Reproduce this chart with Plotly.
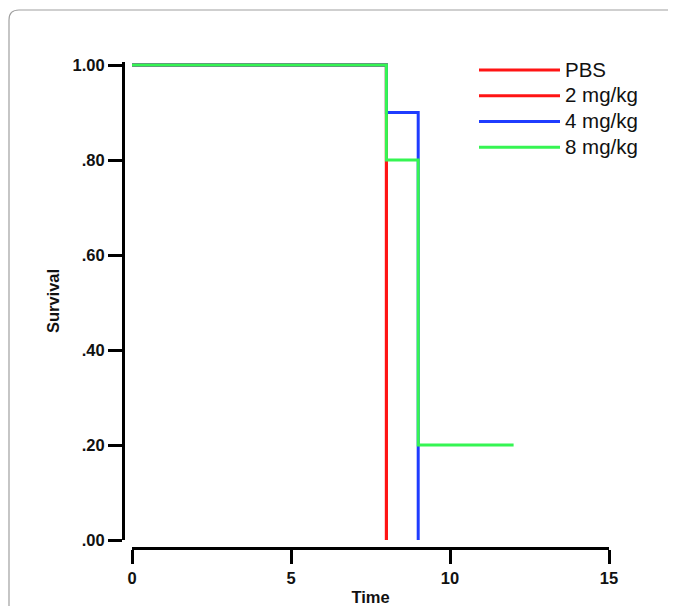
import plotly.graph_objects as go

# ---- data (Kaplan-Meier step curves) ----
series_names = ["PBS", "2 mg/kg", "4 mg/kg", "8 mg/kg"]
pbs_time = [0, 8]
pbs_surv = [1.0, 0.0]
mg2_time = [0, 8]
mg2_surv = [1.0, 0.0]
mg4_time = [0, 8, 9]
mg4_surv = [1.0, 0.9, 0.0]
mg8_time = [0, 8, 9, 12]
mg8_surv = [1.0, 0.8, 0.2, 0.2]

y_tickvals = [0.0, 0.2, 0.4, 0.6, 0.8, 1.0]
y_ticktext = [".00", ".20", ".40", ".60", ".80", "1.00"]
x_tickvals = [0, 5, 10, 15]
x_ticktext = ["0", "5", "10", "15"]

colors = ["#ff1414", "#ff1414", "#1f3cff", "#35f552"]

# ---- layout geometry (pixels, page has an 8px body margin) ----
OFF = 8
W, H = 676 - OFF, 606 - OFF
L = 123 - OFF
R = W - (609 - OFF)
T = 62 - OFF
B = H - (548 - OFF)
plot_w = W - L - R
plot_h = H - T - B


def px_x(px):
    """reference-page pixel x -> paper coordinate"""
    return (px - OFF - L) / plot_w


def px_y(py):
    """reference-page pixel y -> paper coordinate"""
    return (H - B - (py - OFF)) / plot_h


fig = go.Figure()
for name, tx, sy, c in zip(series_names,
                           [pbs_time, mg2_time, mg4_time, mg8_time],
                           [pbs_surv, mg2_surv, mg4_surv, mg8_surv],
                           colors):
    fig.add_trace(go.Scatter(
        x=tx, y=sy, mode="lines",
        name=f"<span style='font-size:20.5px'>{name}</span>",
        line=dict(color=c, width=3, shape="hv")))

FONT = "Liberation Sans, Arial, Helvetica, sans-serif"
tick_font = dict(family=FONT, size=16.5, color="#111111", weight="bold")
title_font = dict(family=FONT, size=16.5, color="#111111", weight="bold")

# frame with rounded top-left corner
rad = 10
frame_path = (f"M {px_x(9)},{px_y(640)} L {px_x(9)},{px_y(10 + rad)} "
              f"Q {px_x(9)},{px_y(10)} {px_x(9 + rad)},{px_y(10)} "
              f"L {px_x(720)},{px_y(10)}")

fig.update_layout(
    width=W, height=H,
    margin=dict(l=L, r=R, t=T, b=B, pad=0, autoexpand=False),
    paper_bgcolor="white", plot_bgcolor="white",
    showlegend=True,
    legend=dict(x=px_x(474), y=px_y(52), xanchor="left", yanchor="top",
                font=dict(family=FONT, size=17.5, color="#111111"),
                itemwidth=81, bgcolor="rgba(0,0,0,0)", borderwidth=0,
                tracegroupgap=0),
    xaxis=dict(range=[0, 15], domain=[9 / plot_w, 1], anchor="free",
               position=0, showgrid=False, zeroline=False, automargin=False,
               showline=True, linecolor="black", linewidth=3,
               ticks="outside", ticklen=14, tickwidth=3, tickcolor="black",
               tickvals=x_tickvals, ticktext=x_ticktext, tickfont=tick_font,
               title=dict(text="Time", font=title_font, standoff=5)),
    yaxis=dict(range=[0, 478 / 475], domain=[8 / plot_h, 1], anchor="free",
               position=0, showgrid=False, zeroline=False, automargin=False,
               showline=True, linecolor="black", linewidth=3,
               ticks="outside", ticklen=14, tickwidth=3, tickcolor="black",
               tickvals=y_tickvals, ticktext=y_ticktext, tickfont=tick_font,
               title=dict(text="Survival", font=title_font, standoff=7)),
    shapes=[dict(type="path", xref="paper", yref="paper", path=frame_path,
                 line=dict(color="#a0a0a0", width=1.2), layer="below")],
)

fig.write_html("out.html")
